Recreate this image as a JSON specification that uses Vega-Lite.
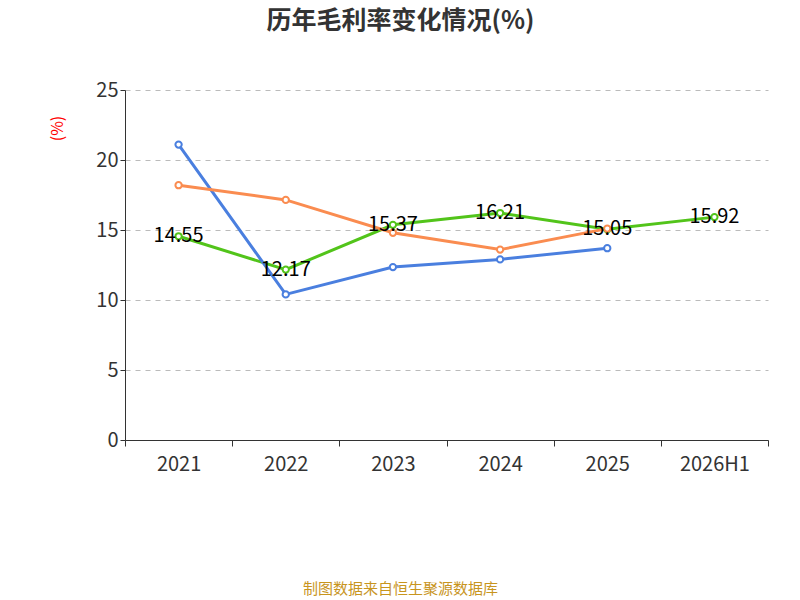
{
"$schema":"https://vega.github.io/schema/vega-lite/v6.json",
"width":643,"height":350,
"autosize":{"type":"none"},
"padding":{"left":125,"top":90,"right":32,"bottom":160},
"background":"white",
"title":{"text":"历年毛利率变化情况(%)","fontSize":25,"fontWeight":"bold","color":"#333","anchor":"middle","dx":-46,"offset":46,"font":"Noto Sans CJK SC"},
"config":{"font":"Noto Sans CJK SC","view":{"stroke":null}},
"data":{"values":[
{"year":"2021","s":"公司毛利率","v":14.55},
{"year":"2022","s":"公司毛利率","v":12.17},
{"year":"2023","s":"公司毛利率","v":15.37},
{"year":"2024","s":"公司毛利率","v":16.21},
{"year":"2025","s":"公司毛利率","v":15.05},
{"year":"2026H1","s":"公司毛利率","v":15.92},
{"year":"2021","s":"行业均值","v":21.1},
{"year":"2022","s":"行业均值","v":10.4},
{"year":"2023","s":"行业均值","v":12.35},
{"year":"2024","s":"行业均值","v":12.9},
{"year":"2025","s":"行业均值","v":13.7},
{"year":"2021","s":"行业中位数","v":18.2},
{"year":"2022","s":"行业中位数","v":17.15},
{"year":"2023","s":"行业中位数","v":14.8},
{"year":"2024","s":"行业中位数","v":13.6},
{"year":"2025","s":"行业中位数","v":15.1}
]},
"encoding":{
"x":{"field":"year","type":"nominal","sort":null,"scale":{"type":"band","paddingInner":0,"paddingOuter":0},
 "axis":{"labelAngle":0,"labelFontSize":20,"labelColor":"#333","labelPadding":8,"domainColor":"#333","tickColor":"#333","tickSize":6,"tickBand":"extent","grid":false,
 "title":"制图数据来自恒生聚源数据库","titleColor":"#c8951e","titleFontSize":15,"titleFontWeight":"normal","titleX":275,"titleY":148,"titleBaseline":"middle"}},
"y":{"field":"v","type":"quantitative","scale":{"domain":[0,25]},
 "axis":{"values":[0,5,10,15,20,25],"labelFontSize":20,"labelColor":"#333","domain":true,"domainColor":"#333","tickColor":"#333","gridDash":[5,5],"gridColor":"#bbb",
 "title":"(%)","titleColor":"red","titleFontSize":16,"titleFontWeight":"normal","titleX":-60,"titleY":38}},
"color":{"field":"s","type":"nominal","legend":null,
 "scale":{"domain":["公司毛利率","行业均值","行业中位数"],"range":["#52c41a","#4a7fdf","#fa8c50"]}}
},
"layer":[
{"mark":{"type":"line","strokeWidth":3}},
{"mark":{"type":"point","filled":true,"fill":"white","size":40,"strokeWidth":2,"opacity":1},"encoding":{"stroke":{"field":"s","type":"nominal","scale":{"domain":["公司毛利率","行业均值","行业中位数"],"range":["#52c41a","#4a7fdf","#fa8c50"]},
 "legend":{"orient":"none","legendX":-5,"legendY":85,"direction":"horizontal","title":null,"labelFontSize":22,"labelColor":"#333","symbolType":"circle","symbolSize":300,"symbolFillColor":"white","symbolStrokeWidth":2,"columnPadding":30,"labelOffset":10,"legendY":433}}}},
{"transform":[{"filter":"datum.s==='公司毛利率'"}],"mark":{"type":"text","fontSize":20,"color":"black"},"encoding":{"text":{"field":"v","format":".2f"},"color":{"value":"black"}}}
]
}
